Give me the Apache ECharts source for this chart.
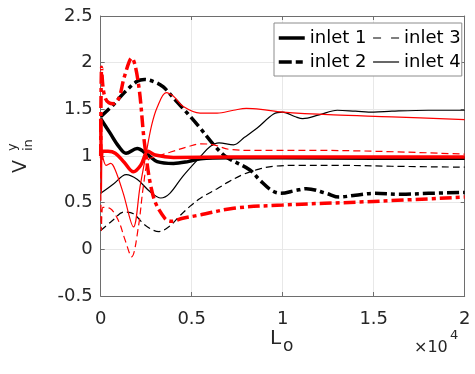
<!DOCTYPE html>
<html>
<head>
<meta charset="utf-8">
<script src="https://cdn.jsdelivr.net/npm/echarts@6/dist/echarts.min.js"></script>
<style>html,body{margin:0;padding:0;background:#fff}#c{width:475px;height:374px}</style>
</head>
<body>
<div id="c"></div>
<script>
// x values are in units of 1e4 (axis shows x10^4)
var xTicks = ['0', '0.5', '1', '1.5', '2'];
var yTicks = ['-0.5', '0', '0.5', '1', '1.5', '2', '2.5'];
var legendNames = ['inlet 1', 'inlet 3', 'inlet 2', 'inlet 4'];

// black curves
var blackInlet1 = [[0,1.4],[0.05,1.25],[0.1,1.1],[0.139,1.03],[0.2,1.08],[0.26,1.01],[0.31,0.94],[0.4,0.92],[0.48,0.94],[0.55,0.97],[0.7,0.98],[1.0,0.98],[1.5,0.975],[2.0,0.975]];
var blackInlet2 = [[0,1.42],[0.07,1.55],[0.13,1.68],[0.2,1.8],[0.24,1.82],[0.3,1.79],[0.344,1.74],[0.41,1.6],[0.48,1.45],[0.546,1.3],[0.63,1.1],[0.69,0.99],[0.82,0.85],[0.875,0.74],[0.94,0.63],[0.99,0.6],[1.07,0.63],[1.13,0.65],[1.24,0.6],[1.31,0.56],[1.4,0.58],[1.5,0.6],[1.65,0.59],[1.8,0.6],[2.0,0.61]];
var blackInlet3 = [[0,0.2],[0.06,0.3],[0.13,0.4],[0.18,0.38],[0.25,0.25],[0.32,0.19],[0.38,0.25],[0.43,0.35],[0.49,0.46],[0.55,0.55],[0.64,0.65],[0.7,0.72],[0.78,0.8],[0.87,0.86],[0.95,0.89],[1.1,0.9],[1.3,0.9],[1.6,0.89],[2.0,0.88]];
var blackInlet4 = [[0,0.6],[0.07,0.7],[0.14,0.8],[0.2,0.75],[0.27,0.62],[0.33,0.55],[0.38,0.6],[0.45,0.78],[0.546,0.99],[0.6,1.1],[0.65,1.14],[0.73,1.12],[0.79,1.2],[0.86,1.3],[0.95,1.45],[1.0,1.47],[1.07,1.42],[1.11,1.4],[1.2,1.44],[1.3,1.49],[1.4,1.48],[1.5,1.47],[1.6,1.48],[1.8,1.49],[2.0,1.49]];

// red curves
var redInlet1 = [[0,1.4],[0.004,0.97],[0.01,1.05],[0.04,1.05],[0.08,1.03],[0.13,0.93],[0.18,0.83],[0.22,0.9],[0.26,1.05],[0.3,1.01],[0.4,0.985],[0.7,0.99],[1.0,0.99],[1.5,0.99],[2.0,0.99]];
var redInlet2 = [[0,1.0],[0.005,1.95],[0.012,1.75],[0.025,1.62],[0.045,1.57],[0.07,1.56],[0.1,1.62],[0.13,1.85],[0.17,2.05],[0.207,1.78],[0.243,1.1],[0.29,0.56],[0.353,0.33],[0.39,0.3],[0.445,0.33],[0.55,0.37],[0.73,0.44],[1.0,0.475],[1.46,0.51],[2.0,0.56]];
var redInlet3 = [[0,0.95],[0.004,0.2],[0.012,0.45],[0.05,0.44],[0.097,0.31],[0.134,0.1],[0.17,-0.08],[0.207,0.24],[0.234,0.67],[0.262,0.96],[0.3,0.99],[0.38,1.04],[0.48,1.1],[0.55,1.13],[0.62,1.12],[0.71,1.07],[0.85,1.06],[1.2,1.06],[2.0,1.02]];
var redInlet4 = [[0,1.4],[0.004,0.6],[0.01,1.0],[0.03,0.9],[0.055,0.92],[0.08,0.85],[0.124,0.6],[0.18,0.24],[0.216,0.67],[0.25,1.03],[0.28,1.33],[0.31,1.52],[0.36,1.68],[0.4,1.64],[0.454,1.53],[0.546,1.46],[0.64,1.46],[0.73,1.49],[0.8,1.51],[0.88,1.5],[1.0,1.47],[1.28,1.44],[1.6,1.42],[2.0,1.39]];

var FONT = "'DejaVu Sans', 'Liberation Sans', Arial, sans-serif";
var thick = 3.5, thin = 1.2;
var dashDot = [12, 4, 4, 4];
var dashed = [7, 4];
var styleOf = {
  'inlet 1': { width: thick, type: 'solid', legendType: 'solid' },
  'inlet 2': { width: thick, type: dashDot, legendType: [13, 4, 7, 4] },
  'inlet 3': { width: thin, type: dashed, legendType: [8, 10] },
  'inlet 4': { width: thin, type: 'solid', legendType: 'solid' }
};

function mk(name, data, color, st, z) {
  return {
    name: name, type: 'line', data: data, showSymbol: false, symbol: 'none',
    smooth: 0.35, z: z,
    lineStyle: { color: color, width: st.width, type: st.type },
    itemStyle: { color: color },
    emphasis: { disabled: true }, animation: false
  };
}

var chart = echarts.init(document.getElementById('c'), null, { renderer: 'canvas' });
var axisColor = '#6e6e6e';
var txtColor = '#262626';
chart.setOption({
  animation: false,
  backgroundColor: '#fff',
  grid: { left: 100.7, right: 10.3, top: 16, bottom: 78, containLabel: false },
  xAxis: [{
    type: 'value', min: 0, max: 2, interval: 0.5, position: 'bottom',
    axisLine: { show: true, onZero: false, lineStyle: { color: axisColor, width: 1 } },
    axisTick: { show: true, inside: true, length: 4, lineStyle: { color: axisColor } },
    splitLine: { show: true, lineStyle: { color: '#e8e8e8', width: 1 } },
    axisLabel: { margin: 14, color: txtColor, fontSize: 18, fontFamily: FONT,
      formatter: function (v) { return xTicks[Math.round(v / 0.5)]; } }
  }, {
    type: 'value', min: 0, max: 2, interval: 0.5, position: 'top',
    axisLine: { show: true, onZero: false, lineStyle: { color: axisColor, width: 1 } },
    axisTick: { show: true, inside: true, length: 4, lineStyle: { color: axisColor } },
    splitLine: { show: false }, axisLabel: { show: false }
  }],
  yAxis: [{
    type: 'value', min: -0.5, max: 2.5, interval: 0.5, position: 'left',
    axisLine: { show: true, onZero: false, lineStyle: { color: axisColor, width: 1 } },
    axisTick: { show: true, inside: true, length: 4, lineStyle: { color: axisColor } },
    splitLine: { show: true, lineStyle: { color: '#e8e8e8', width: 1 } },
    axisLabel: { margin: 8, color: txtColor, fontSize: 18, fontFamily: FONT,
      formatter: function (v) { return yTicks[Math.round((v + 0.5) / 0.5)]; } }
  }, {
    type: 'value', min: -0.5, max: 2.5, interval: 0.5, position: 'right',
    axisLine: { show: true, onZero: false, lineStyle: { color: axisColor, width: 1 } },
    axisTick: { show: true, inside: true, length: 4, lineStyle: { color: axisColor } },
    splitLine: { show: false }, axisLabel: { show: false }
  }],
  legend: {
    data: legendNames.map(function (n) {
      return { name: n, lineStyle: { color: '#000', width: styleOf[n].width, type: styleOf[n].legendType } };
    }),
    orient: 'horizontal', left: 274, top: 23, width: 190,
    itemWidth: 26, itemHeight: 14, itemGap: 6, padding: [6, 1, 5, 3],
    backgroundColor: '#fff', borderColor: '#8c8c8c', borderWidth: 1,
    itemStyle: { opacity: 0, borderWidth: 0 },
    textStyle: { color: '#000', fontSize: 18, fontFamily: FONT },
    selectedMode: false, inactiveColor: '#000'
  },
  series: [
    mk('inlet 1', blackInlet1, '#000', styleOf['inlet 1'], 2),
    mk('inlet 2', blackInlet2, '#000', styleOf['inlet 2'], 2),
    mk('inlet 3', blackInlet3, '#000', styleOf['inlet 3'], 2),
    mk('inlet 4', blackInlet4, '#000', styleOf['inlet 4'], 2),
    mk('red inlet 1', redInlet1, '#ff0000', styleOf['inlet 1'], 3),
    mk('red inlet 2', redInlet2, '#ff0000', styleOf['inlet 2'], 3),
    mk('red inlet 3', redInlet3, '#ff0000', styleOf['inlet 3'], 3),
    mk('red inlet 4', redInlet4, '#ff0000', styleOf['inlet 4'], 3)
  ],
  graphic: [
    { type: 'text', x: 270, y: 329, style: { text: 'L', font: '20px ' + FONT, fill: txtColor } },
    { type: 'text', x: 283, y: 338, style: { text: 'o', font: '17px ' + FONT, fill: txtColor } },
    { type: 'text', x: 414, y: 340, style: { text: '\u00d710', font: '16px ' + FONT, fill: txtColor } },
    { type: 'text', x: 450, y: 329, style: { text: '4', font: '13px ' + FONT, fill: txtColor } },
    { type: 'text', x: 21, y: 173, rotation: Math.PI / 2,
      style: { text: 'V', font: '19px ' + FONT, fill: txtColor, align: 'left', verticalAlign: 'middle' } },
    { type: 'text', x: 13, y: 151, rotation: Math.PI / 2,
      style: { text: 'y', font: '13px ' + FONT, fill: txtColor, align: 'left', verticalAlign: 'middle' } },
    { type: 'text', x: 29, y: 151, rotation: Math.PI / 2,
      style: { text: 'in', font: '13px ' + FONT, fill: txtColor, align: 'left', verticalAlign: 'middle' } }
  ]
});
</script>
</body>
</html>
